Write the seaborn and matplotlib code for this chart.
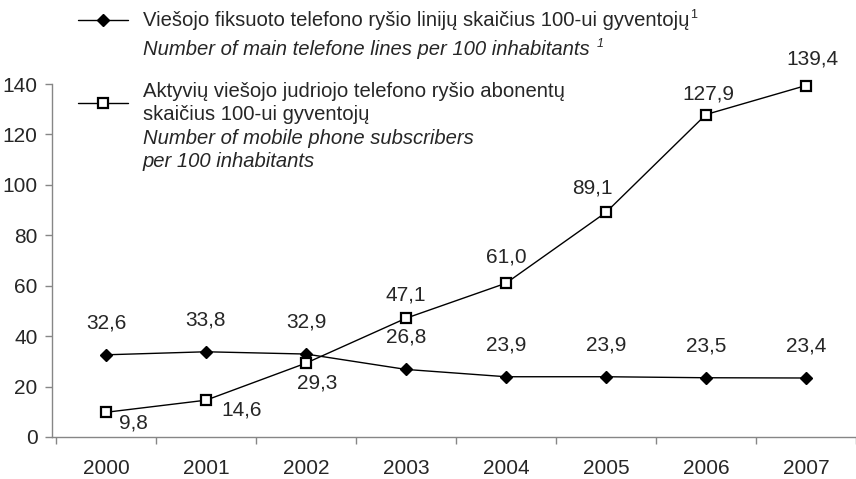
import matplotlib
matplotlib.use('Agg')
import matplotlib.pyplot as plt
import seaborn as sns
import pandas as pd
from matplotlib.lines import Line2D

# ---- data ----
years = [2000, 2001, 2002, 2003, 2004, 2005, 2006, 2007]
year_labels = ['2000', '2001', '2002', '2003', '2004', '2005', '2006', '2007']
fixed_lines = [32.6, 33.8, 32.9, 26.8, 23.9, 23.9, 23.5, 23.4]
mobile_subs = [9.8, 14.6, 29.3, 47.1, 61.0, 89.1, 127.9, 139.4]
y_ticks = [0, 20, 40, 60, 80, 100, 120, 140]

fixed_label_lt = 'Viešojo fiksuoto telefono ryšio linijų skaičius 100-ui gyventojų'
fixed_label_en = 'Number of main telefone lines per 100 inhabitants '
mobile_label_lt = ['Aktyvių viešojo judriojo telefono ryšio abonentų',
                   'skaičius 100-ui gyventojų']
mobile_label_en = ['Number of mobile phone subscribers',
                   'per 100 inhabitants']

# label offsets in pixels (dx, dy)
fixed_offsets = [(0, 32)] * 8
mobile_offsets = [(27, -11), (36, -10), (11, -20), (0, 23), (0, 26),
                  (-14, 24), (2, 21), (6, 27)]

sns.set_style('white')
plt.rcParams['font.family'] = ['Liberation Sans', 'DejaVu Sans']

W, H = 856, 479
fig = plt.figure(figsize=(W / 100, H / 100), dpi=100)
ax = fig.add_axes([52 / W, 1 - 437 / H, (856 - 52) / W, (437 - 84) / H])

d_ms = 6.3
s_ms = 6.5
df = pd.DataFrame({'year': years, 'fixed': fixed_lines, 'mobile': mobile_subs})
sns.lineplot(data=df, x='year', y='fixed', ax=ax, color='black', lw=1,
             marker='D', markersize=d_ms, markerfacecolor='black',
             markeredgecolor='black', markeredgewidth=1, clip_on=False, zorder=3)
sns.lineplot(data=df, x='year', y='mobile', ax=ax, color='black', lw=1,
             marker='s', markersize=s_ms, markerfacecolor='white',
             markeredgecolor='black', markeredgewidth=1.6, clip_on=False, zorder=4)

fs = 15
for x, v, (dx, dy) in zip(years, fixed_lines, fixed_offsets):
    ax.annotate(f'{v:.1f}'.replace('.', ','), (x, v), xytext=(dx, dy),
                textcoords='offset pixels', ha='center', va='center', fontsize=fs)
for x, v, (dx, dy) in zip(years, mobile_subs, mobile_offsets):
    ax.annotate(f'{v:.1f}'.replace('.', ','), (x, v), xytext=(dx, dy),
                textcoords='offset pixels', ha='center', va='center', fontsize=fs)

ax.set_xlim(1999.46, 2007.5)
ax.set_ylim(0, 140)
ax.set_xticks(years)
ax.set_xticklabels(year_labels)
ax.set_xticks([y + 0.5 for y in [1999] + years], minor=True)
ax.set_yticks(y_ticks)
ax.set_yticklabels([str(t) for t in y_ticks])
ax.set_xlabel('')
ax.set_ylabel('')
grey = '#868686'
ax.tick_params(axis='x', which='major', bottom=True, length=0, pad=15.5, labelsize=fs)
ax.tick_params(axis='x', which='minor', bottom=True, length=5, width=1, color=grey, direction='out')
ax.tick_params(axis='y', which='major', left=True, length=5, width=1, color=grey,
               direction='out', pad=5.5, labelsize=fs)
for s in ['top', 'right']:
    ax.spines[s].set_visible(False)
for s in ['left', 'bottom']:
    ax.spines[s].set_color(grey)
    ax.spines[s].set_linewidth(1)

# ---- legend (figure-level) ----
def fy(px):
    return 1 - px / H

lfs = 14.6
fig.add_artist(Line2D([78 / W, 128 / W], [fy(20)] * 2, color='black', lw=1,
                      transform=fig.transFigure))
fig.add_artist(Line2D([103 / W], [fy(20)], marker='D', markersize=d_ms, color='black',
                      transform=fig.transFigure))
t1 = fig.text(143 / W, fy(26), fixed_label_lt, fontsize=lfs, va='baseline')
t2 = fig.text(143 / W, fy(55), fixed_label_en, fontsize=lfs, va='baseline', style='italic')

fig.add_artist(Line2D([78 / W, 128 / W], [fy(103)] * 2, color='black', lw=1,
                      transform=fig.transFigure))
fig.add_artist(Line2D([103 / W], [fy(103)], marker='s', markersize=s_ms,
                      markerfacecolor='white', markeredgecolor='black',
                      markeredgewidth=1.6, transform=fig.transFigure))
for txt, ypx in zip(mobile_label_lt, [97, 120]):
    fig.text(143 / W, fy(ypx), txt, fontsize=lfs, va='baseline')
for txt, ypx in zip(mobile_label_en, [144, 167]):
    fig.text(143 / W, fy(ypx), txt, fontsize=lfs, va='baseline', style='italic')

fig.canvas.draw()
r = fig.canvas.get_renderer()
for t, ypx, st in [(t1, 26, 'normal'), (t2, 55, 'italic')]:
    bb = t.get_window_extent(r)
    fig.text((bb.x1 + 1) / W, fy(ypx - 8), '1', fontsize=9, va='baseline', style=st)

fig.savefig('out.png', dpi=100)
